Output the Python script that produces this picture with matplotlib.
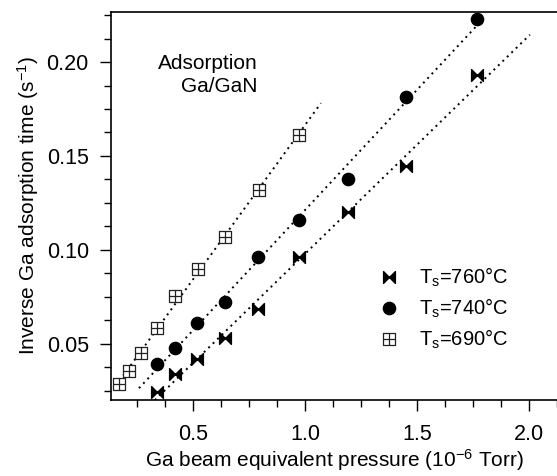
import matplotlib
matplotlib.use("Agg")
import matplotlib.pyplot as plt
from matplotlib.path import Path
from matplotlib.ticker import MultipleLocator
import numpy as np

plt.rcParams['font.family'] = ['Liberation Sans', 'DejaVu Sans']
plt.rcParams['mathtext.fontset'] = 'custom'
plt.rcParams['mathtext.rm'] = 'Liberation Sans'
plt.rcParams['mathtext.it'] = 'Liberation Sans'

# data
p_690 = [0.170, 0.214, 0.268, 0.339, 0.420, 0.522, 0.643, 0.795, 0.973]
r_690 = [0.0287, 0.0356, 0.0452, 0.0585, 0.0755, 0.0899, 0.1070, 0.1320, 0.1610]
p_740 = [0.339, 0.420, 0.518, 0.643, 0.790, 0.973, 1.192, 1.451, 1.768]
r_740 = [0.0394, 0.0479, 0.0612, 0.0723, 0.0963, 0.1160, 0.1378, 0.1814, 0.2229]
p_760 = [0.339, 0.420, 0.518, 0.643, 0.790, 0.973, 1.192, 1.451, 1.768]
r_760 = [0.0245, 0.0340, 0.0420, 0.0532, 0.0686, 0.0963, 0.1200, 0.1447, 0.1930]

# x extent of each fitted dotted line
fit_range_690 = [0.156, 1.071]
fit_range_740 = [0.259, 1.78]
fit_range_760 = [0.31, 2.004]

labels = ['T$_\\mathregular{s}$=760°C', 'T$_\\mathregular{s}$=740°C', 'T$_\\mathregular{s}$=690°C']

# custom markers
bowtie = Path([(-1, -1), (0, 0), (-1, 1), (-1, -1), (1, -1), (0, 0), (1, 1), (1, -1)],
              [Path.MOVETO, Path.LINETO, Path.LINETO, Path.CLOSEPOLY,
               Path.MOVETO, Path.LINETO, Path.LINETO, Path.CLOSEPOLY])
boxplus = Path([(-1, -1), (1, -1), (1, 1), (-1, 1), (-1, -1),
                (0, -1), (0, 1), (-1, 0), (1, 0)],
               [Path.MOVETO, Path.LINETO, Path.LINETO, Path.LINETO, Path.CLOSEPOLY,
                Path.MOVETO, Path.LINETO, Path.MOVETO, Path.LINETO])

fig = plt.figure(figsize=(5.57, 4.76), dpi=100)
ax = fig.add_axes([111 / 557, 76 / 476, 1 - 111 / 557, 388 / 476])

dots = (0, (1, 2.2))
for px, ry, rng in [(p_690, r_690, fit_range_690),
                    (p_740, r_740, fit_range_740),
                    (p_760, r_760, fit_range_760)]:
    k, b = np.polyfit(px, ry, 1)
    xs = np.array(rng)
    ax.plot(xs, k * xs + b, color='black', linestyle=dots, lw=1.4, zorder=1)

ax.plot(p_760, r_760, linestyle='none', marker=bowtie, markersize=8.5,
        color='black', label=labels[0], zorder=3)
ax.plot(p_740, r_740, linestyle='none', marker='o', markersize=8.8,
        color='black', label=labels[1], zorder=3)
ax.plot(p_690, r_690, linestyle='none', marker=boxplus, markersize=8,
        markerfacecolor='white', markeredgecolor='#222222', markeredgewidth=0.9,
        label=labels[2], zorder=3)

ax.set_xlim(0.134, 2.125)
ax.set_ylim(0.0202, 0.2266)
ax.xaxis.set_minor_locator(MultipleLocator(0.125))
ax.yaxis.set_minor_locator(MultipleLocator(0.0125))
ax.set_xticks([0.5, 1.0, 1.5, 2.0])
ax.set_xticklabels(['0.5', '1.0', '1.5', '2.0'])
ax.set_yticks([0.05, 0.10, 0.15, 0.20])
ax.set_yticklabels(['0.05', '0.10', '0.15', '0.20'])
ax.tick_params(which='major', direction='out', length=8, width=1, labelsize=15.5)
ax.tick_params(axis='y', which='major', pad=8)
ax.tick_params(axis='x', which='major', pad=9)
ax.tick_params(which='minor', direction='out', length=5, width=1)
ax.spines['right'].set_visible(False)
for s in ['left', 'bottom', 'top']:
    ax.spines[s].set_linewidth(1.2)

ax.set_xlabel('Ga beam equivalent pressure (10$^{\\mathregular{-6}}$ Torr)', fontsize=15, labelpad=2)
ax.set_ylabel('Inverse Ga adsorption time (s$^{\\mathregular{-1}}$)', fontsize=15, labelpad=4)

ax.text(0.79, 0.1930, 'Adsorption\nGa/GaN', ha='right', va='center', fontsize=15,
        multialignment='right', linespacing=1.25)

ax.legend(loc='upper left', bbox_to_anchor=(0.597, 0.345), frameon=False, fontsize=14.5,
          handletextpad=0.85, labelspacing=0.38, borderaxespad=0, borderpad=0,
          handlelength=1.2)

fig.savefig('out.png', dpi=100)
